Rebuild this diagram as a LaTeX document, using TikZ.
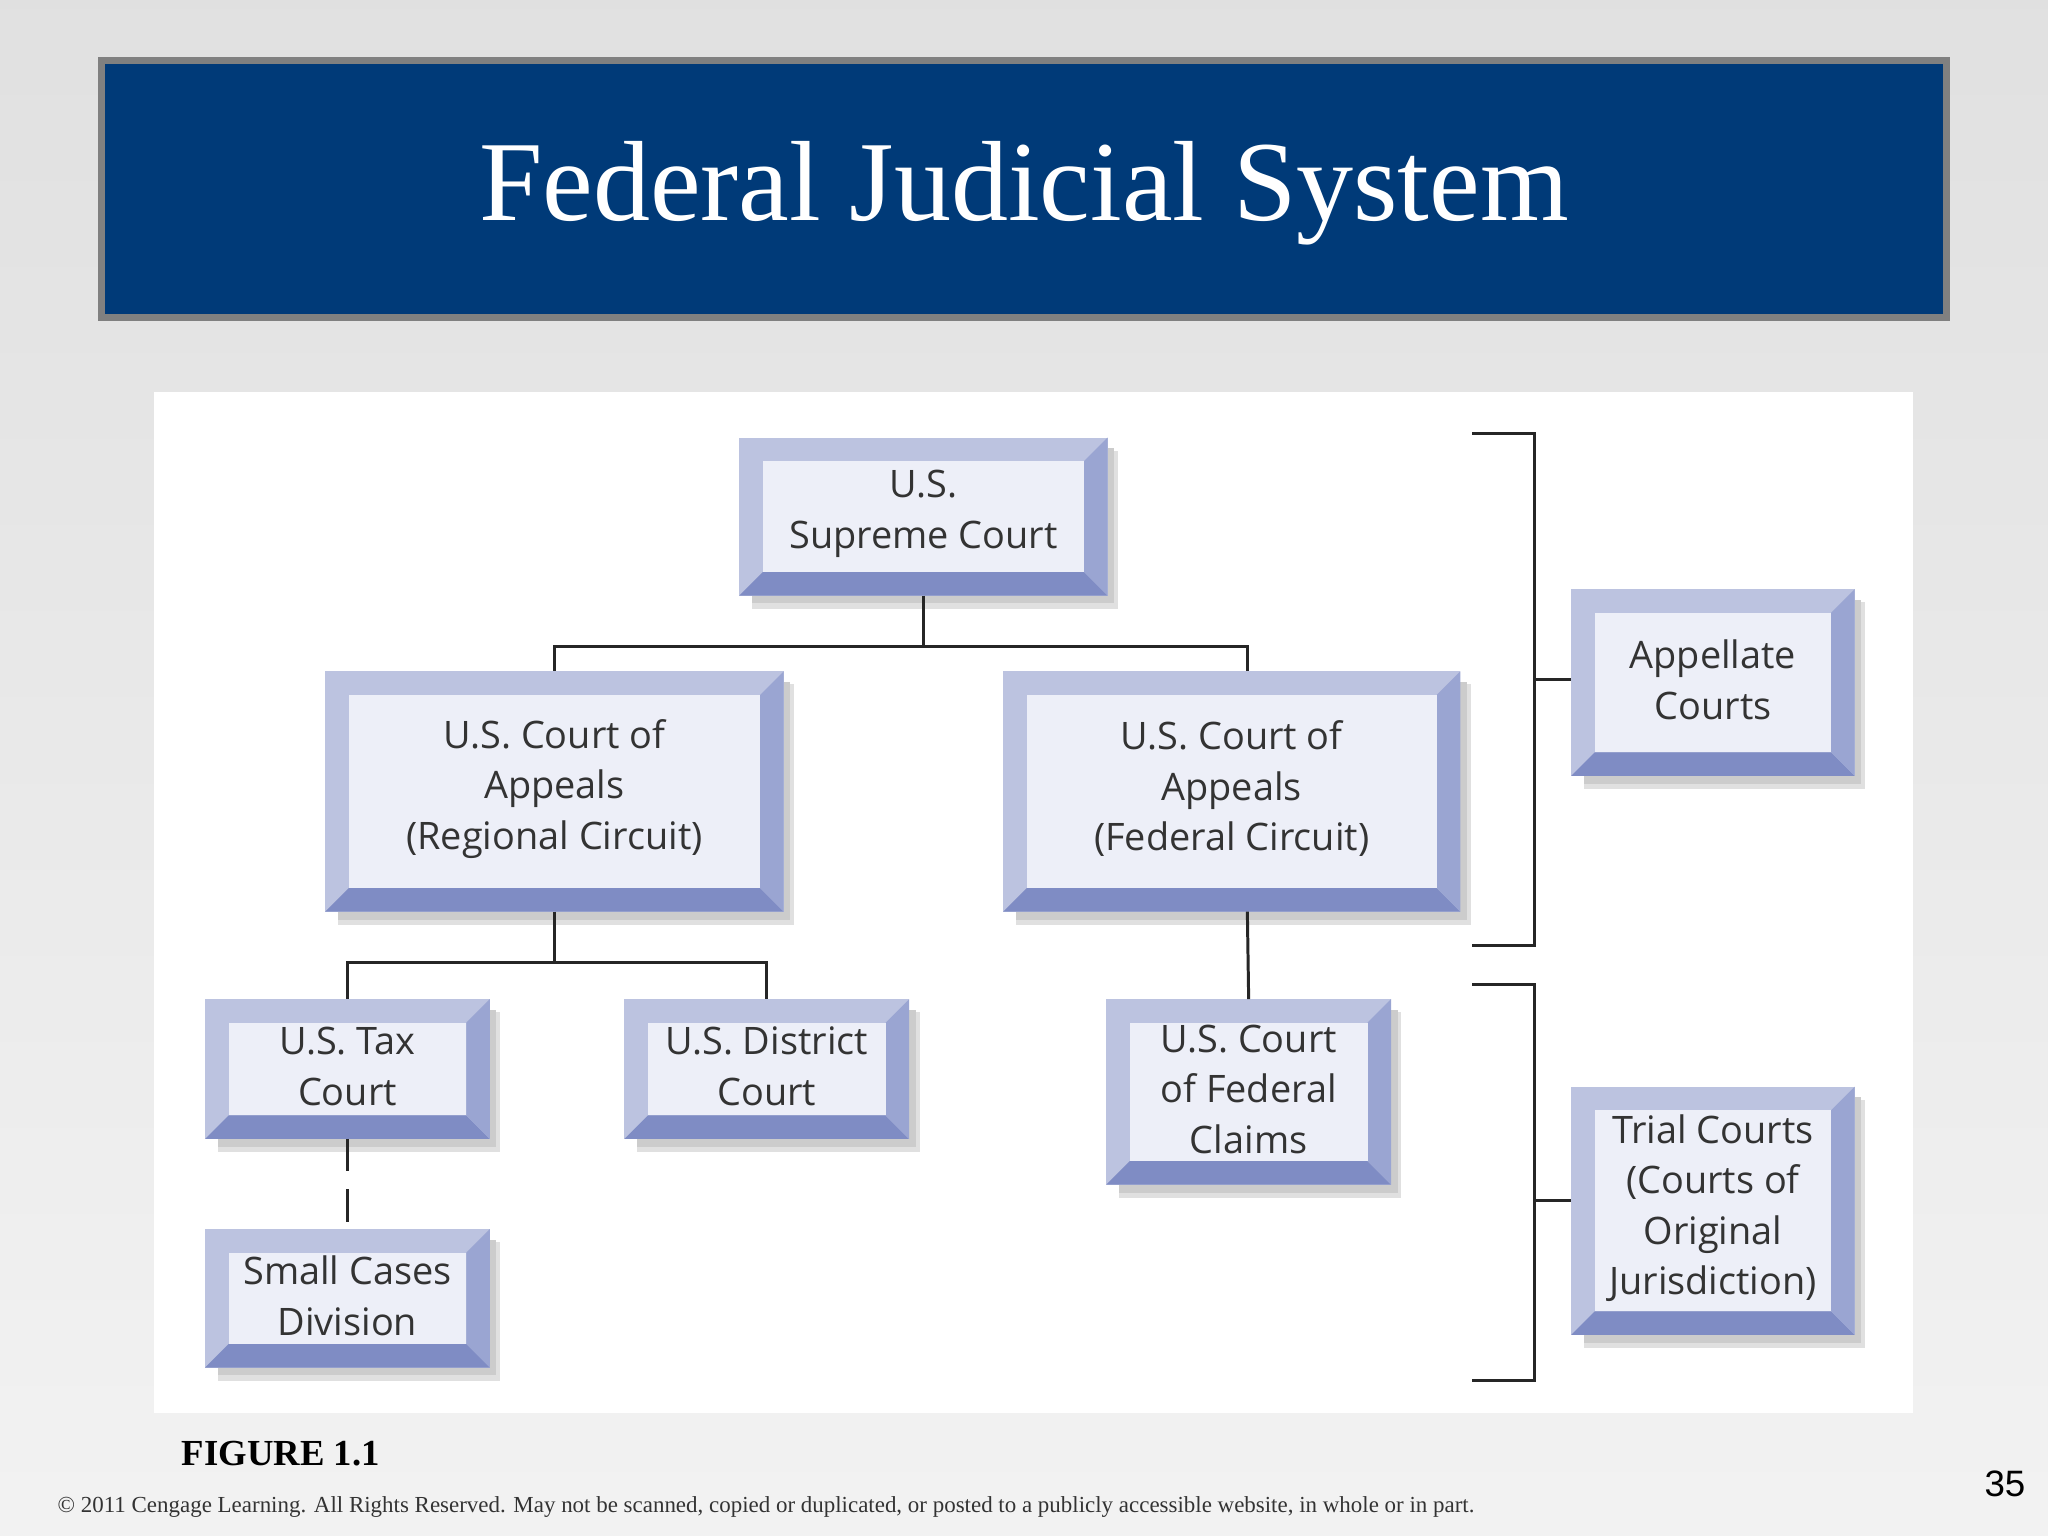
\documentclass[tikz,border=0pt]{standalone}
\usepackage{fontspec}
\setmainfont{Liberation Serif}
\newfontfamily\boxfont{Open Sans}
\newfontfamily\numfont{Liberation Sans}
\definecolor{banner}{HTML}{003A78}
\definecolor{bevtop}{HTML}{BCC3E0}
\definecolor{bevbot}{HTML}{7F8CC4}
\definecolor{bevright}{HTML}{9AA5D2}
\definecolor{face}{HTML}{EDEFF8}
\definecolor{txt}{HTML}{333333}
\newcommand{\bevbox}[6]{% name, x1,y1,x2,y2, text
  \fill[black!12] (#2+10,#3+10) rectangle (#4+8,#5+10);
  \fill[black!20] (#2+10,#3+8) rectangle (#4+5,#5+6);
  \fill[bevtop] (#2,#3) rectangle (#4,#5);
  \fill[bevbot] (#2,#5) -- (#2+18,#5-18) -- (#4-18,#5-18) -- (#4,#5) -- cycle;
  \fill[bevright] (#4,#3) -- (#4-18,#3+18) -- (#4-18,#5-18) -- (#4,#5) -- cycle;
  \fill[face] (#2+18,#3+18) rectangle (#4-18,#5-18);
  \node[boxtext] (#1) at ({(#2+#4)/2},{(#3+#5)/2-2}) {#6};
  \coordinate (#1-n) at ({(#2+#4)/2},#3);
  \coordinate (#1-s) at ({(#2+#4)/2},#5);
}
\tikzset{boxtext/.style={align=center,text=txt,font=\boxfont\fontsize{16.5}{22}\selectfont,inner sep=0pt},
  conn/.style={line width=1.3pt,black!85}}
\begin{document}
\begin{tikzpicture}[x=0.02cm,y=-0.02cm]
\useasboundingbox (0,0) rectangle (1568,1176);
\shade[top color=black!12,bottom color=black!5] (0,0) rectangle (1568,1176);
\fill[white] (118,300) rectangle (1465,1082);
\fill[banner,draw=black!50,line width=3pt] (78,46) rectangle (1490,243);
\node[text=white,font=\fontsize{49.7}{58}\selectfont] (title) at (784,148) {Federal Judicial System};
\bevbox{sup}{566}{335}{848}{456}{U.S.\\Supreme Court}
\bevbox{reg}{249}{514}{600}{698}{U.S. Court of\\Appeals\\(Regional Circuit)}
\bevbox{fed}{768}{514}{1118}{698}{U.S. Court of\\Appeals\\(Federal Circuit)}
\bevbox{app}{1203}{451}{1420}{594}{Appellate\\Courts}
\bevbox{tax}{157}{765}{375}{872}{U.S. Tax\\Court}
\bevbox{dis}{478}{765}{696}{872}{U.S. District\\Court}
\bevbox{cla}{847}{765}{1065}{907}{U.S. Court\\of Federal\\Claims}
\bevbox{sma}{157}{941}{375}{1047}{Small Cases\\Division}
\bevbox{tri}{1203}{832}{1420}{1022}{Trial Courts\\(Courts of\\Original\\Jurisdiction)}
\coordinate (fedtop) at (955,514); \coordinate (fedbot) at (955,698);
\draw[conn] (sup-s) -- ++(0,39) -| (reg-n);
\draw[conn] (sup-s) ++(0,39) -| (fedtop);
\draw[conn] (reg-s) -- ++(0,39) -| (tax-n);
\draw[conn] (reg-s) ++(0,39) -| (dis-n);
\draw[conn] (fedbot) -- (cla-n);
\draw[conn,dash pattern=on 14pt off 8pt] (tax-s) -- (sma-n);
\coordinate (b1) at (1127,332); \coordinate (b2) at (1127,724);
\draw[conn] (b1) -- (1175,332) -- (1175,724) -- (b2);
\coordinate (t1) at (1203,520);
\draw[conn] (1175,520) -- (t1);
\coordinate (b3) at (1127,754); \coordinate (b4) at (1127,1057);
\draw[conn] (b3) -- (1175,754) -- (1175,1057) -- (b4);
\coordinate (t2) at (1203,919);
\draw[conn] (1175,919) -- (t2);
\node[anchor=west,font=\bfseries\fontsize{16}{18}\selectfont] (fig) at (133,1113) {FIGURE 1.1};
\node[anchor=west,font=\fontsize{10}{12}\selectfont,text=black!80] (copy) at (38,1154) {© 2011 Cengage Learning. All Rights Reserved. May not be scanned, copied or duplicated, or posted to a publicly accessible website, in whole or in part.};
\node[font=\numfont\fontsize{16}{18}\selectfont] (num) at (1535,1136) {35};
\end{tikzpicture}
\end{document}
